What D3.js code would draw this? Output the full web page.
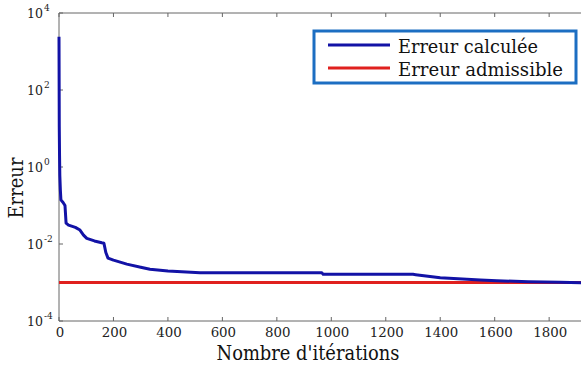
<!DOCTYPE html>
<html>
<head>
<meta charset="utf-8">
<script src="https://cdn.jsdelivr.net/npm/d3@7"></script>
<style>
  body { margin: 0; background: #fff; }
</style>
</head>
<body>
<svg id="chart" width="581" height="369"></svg>
<script>
// iteration -> error
const iterations = [0, 1, 2, 3, 5, 7, 15, 22, 26, 35, 60, 77, 90, 102, 130, 157, 165, 172, 180,
  200, 249, 300, 334, 400, 518, 603, 700, 965, 970, 1300, 1310, 1400, 1547, 1608, 1723, 1840, 1950];
const computedError = [2400, 11, 2.0, 0.6, 0.25, 0.14, 0.12, 0.10, 0.035, 0.031, 0.027, 0.023, 0.017,
  0.014, 0.012, 0.0108, 0.0105, 0.006, 0.0043, 0.0038, 0.0030, 0.0025, 0.0022, 0.0020, 0.0018,
  0.0018, 0.0018, 0.0018, 0.00163, 0.00163, 0.0016, 0.00133, 0.00116, 0.00111, 0.00105, 0.00102, 0.00097];
const admissibleError = 1e-3;
const xTicks = [0, 200, 400, 600, 800, 1000, 1200, 1400, 1600, 1800];
const yExponents = [4, 2, 0, -2, -4];
const legendLabels = ["Erreur calculée", "Erreur admissible"];

const BLUE = "#1212a6", RED = "#e0201e", AXIS = "#666";
// Liberation Serif doesn't resolve here, DejaVu Serif does; widths pinned with textLength
const SERIF = "DejaVu Serif";
const margin = { left: 59, top: 13, bottom: 321, right: 590 };

const svg = d3.select("#chart");
const x = d3.scaleLinear().domain([0, 1950]).range([margin.left, margin.right]);
const y = d3.scaleLog().domain([1e-4, 1e4]).range([margin.bottom, margin.top]);

function fit(sel, w) {
  return sel.attr("textLength", w).attr("lengthAdjust", "spacingAndGlyphs");
}

// ── frame + ticks ────────────────────────────────────────────────────────
const frame = svg.append("g").attr("stroke", AXIS).attr("stroke-width", 1).attr("fill", "none");
frame.append("path")
  .attr("d", `M${margin.right},${margin.top}H${margin.left}V${margin.bottom}H${margin.right}`);

for (const t of xTicks) {
  frame.append("line").attr("x1", x(t)).attr("x2", x(t))
    .attr("y1", margin.bottom).attr("y2", margin.bottom - 4);
  frame.append("line").attr("x1", x(t)).attr("x2", x(t))
    .attr("y1", margin.top).attr("y2", margin.top + 4);
}
for (const e of yExponents) {
  frame.append("line").attr("x1", margin.left).attr("x2", margin.left + 4)
    .attr("y1", y(10 ** e)).attr("y2", y(10 ** e));
}

fit(svg.append("g").selectAll("text").data(xTicks).join("text")
  .attr("x", d => x(d) + 1).attr("y", 337)
  .attr("text-anchor", "middle").attr("font-size", 13.5).attr("fill", "#222")
  .style("font-family", SERIF), d => String(d).length * 8.5)
  .text(d => d);

const yl = svg.append("g").selectAll("text").data(yExponents).join("g");
fit(yl.append("text").attr("x", 27).attr("y", d => y(10 ** d) + 5)
  .attr("font-size", 13.5).attr("fill", "#222").style("font-family", SERIF), 16)
  .text("10");
yl.append("text").attr("x", 44).attr("y", d => y(10 ** d) - 2)
  .attr("font-size", 9).attr("fill", "#222").style("font-family", SERIF)
  .text(d => d < 0 ? "-" + (-d) : d);

// axis titles
fit(svg.append("text").attr("x", 308).attr("y", 360).attr("text-anchor", "middle")
  .attr("font-size", 20.5).attr("fill", "#111").style("font-family", SERIF), 183)
  .text("Nombre d'itérations");
fit(svg.append("text").attr("transform", "translate(23,188) rotate(-90)").attr("text-anchor", "middle")
  .attr("font-size", 21).attr("fill", "#111").style("font-family", SERIF), 61)
  .text("Erreur");

// ── series ───────────────────────────────────────────────────────────────
svg.append("line")
  .attr("x1", x(0)).attr("x2", x(1950))
  .attr("y1", y(admissibleError)).attr("y2", y(admissibleError))
  .attr("stroke", RED).attr("stroke-width", 3);

const line = d3.line().x((d, i) => x(iterations[i])).y(d => y(d)).curve(d3.curveLinear);
svg.append("path").datum(computedError)
  .attr("d", line).attr("fill", "none")
  .attr("stroke", BLUE).attr("stroke-width", 3).attr("stroke-linejoin", "round");

// ── legend ───────────────────────────────────────────────────────────────
const legendWidths = [140, 165];
const lg = svg.append("g");
lg.append("rect").attr("x", 314).attr("y", 31).attr("width", 262).attr("height", 52)
  .attr("fill", "#fff").attr("stroke", "#1c6ec2").attr("stroke-width", 3);
[BLUE, RED].forEach((c, i) => {
  const yy = 45 + i * 23;
  lg.append("line").attr("x1", 328).attr("x2", 390).attr("y1", yy).attr("y2", yy)
    .attr("stroke", c).attr("stroke-width", 3);
  fit(lg.append("text").attr("x", 398).attr("y", yy + 8).attr("font-size", 19).attr("fill", "#111")
    .style("font-family", SERIF), legendWidths[i])
    .text(legendLabels[i]);
});
</script>
</body>
</html>
